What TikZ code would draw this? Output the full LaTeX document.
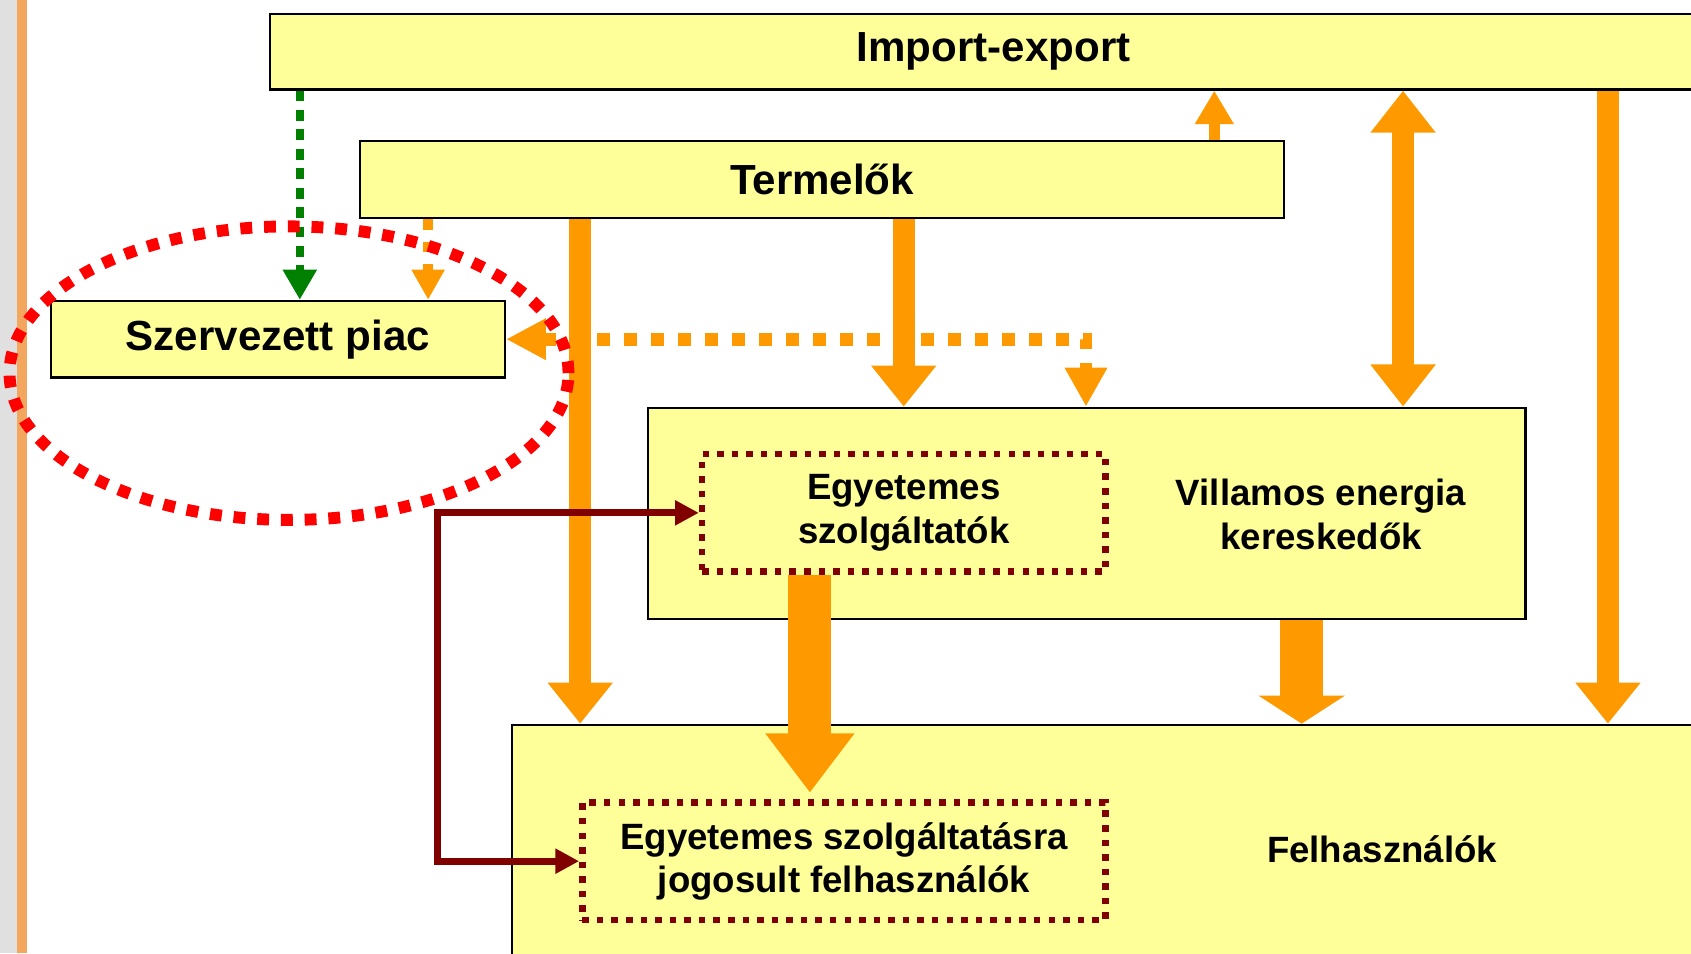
\documentclass[tikz,border=0pt]{standalone}
\usepackage{fontspec}
\setmainfont{Liberation Sans}
\usetikzlibrary{arrows.meta}
\definecolor{boxyellow}{HTML}{FFFF99}
\definecolor{arrorange}{HTML}{FF9900}
\definecolor{flowgreen}{HTML}{008000}
\definecolor{flowred}{HTML}{800000}
\definecolor{stripgray}{HTML}{E0E0E0}
\definecolor{stripsand}{HTML}{F2A65E}

\begin{document}
\begin{tikzpicture}[x=0.01cm, y=-0.01cm,
    bigbox/.style={draw, fill=boxyellow, line width=0.02cm, inner sep=0pt, anchor=north west,
      align=center, font=\bfseries\fontsize{11.1}{13}\selectfont},
    smallbox/.style={bigbox, font=\bfseries\fontsize{9.65}{11.4}\selectfont},
    dotbox/.style={draw=flowred, line width=0.06cm, dash pattern=on 0.06cm off 0.075cm,
      inner sep=0pt, anchor=north west, align=center, font=\bfseries\fontsize{9.65}{11.4}\selectfont},
    thickflow/.style={draw=arrorange, line width=0.2cm},
    fatflow/.style={draw=arrorange, line width=0.4cm},
    thickhead/.style={-{Triangle[width=0.58cm, length=0.38cm]}}]

    \useasboundingbox (0,0) rectangle (1568,884);
    \clip (0,0) rectangle (1568,884);

    % 帯を塗る
    \fill[stripgray] (0,0) rectangle (15.5,884);
    \fill[stripsand] (15.5,0) rectangle (25,884);

    % 箱を置く
    \node[bigbox, minimum width=13.42cm, minimum height=0.70cm] (imp) at (249,12) {Import-export};
    \node[bigbox, minimum width=8.56cm, minimum height=0.71cm] (term) at (333,130) {Termelők};
    \node[bigbox, minimum width=4.21cm, minimum height=0.71cm] (szpiac) at (46,278) {Szervezett piac};
    \node[smallbox, minimum width=8.13cm, minimum height=1.96cm] (kered) at (600,377) {};
    \node[dotbox, minimum width=3.74cm, minimum height=1.09cm] (egyszolg) at (648,418) {Egyetemes\\szolgáltatók};
    \node[font=\bfseries\fontsize{9.65}{11.4}\selectfont, align=center] (keredtxt) at (1225,477) {Villamos energia\\kereskedők};
    \node[smallbox, minimum width=16.12cm, minimum height=2.30cm] (felh) at (474,671) {Felhasználók};
    \node[dotbox, minimum width=4.85cm, minimum height=1.09cm] (jogfelh) at (537,741) {Egyetemes szolgáltatásra\\jogosult felhasználók};

    % 矢印を引く
    \draw[flowgreen, line width=0.075cm, dash pattern=on 0.1cm off 0.08cm,
      -{Triangle[width=0.30cm, length=0.28cm]}] (imp.south -| 278,0) -- (szpiac.north -| 278,0);
    \draw[arrorange, line width=0.09cm, dash pattern=on 0.1cm off 0.11cm,
      -{Triangle[width=0.29cm, length=0.28cm]}] (term.south -| 397,0) -- (szpiac.north -| 397,0);
    \draw[thickflow, thickhead] (term.south -| 538,0) -- (felh.north -| 538,0);
    \draw[thickflow, thickhead] (term.south -| 838,0) -- (kered.north -| 838,0);
    \draw[thickflow, {Triangle[width=0.58cm, length=0.39cm]}-{Triangle[width=0.58cm, length=0.39cm]}]
      (imp.south -| 1301,0) -- (kered.north -| 1301,0);
    \draw[thickflow, thickhead] (imp.south -| 1491,0) -- (felh.north -| 1491,0);
    \draw[arrorange, line width=0.1cm, -{Triangle[width=0.34cm, length=0.31cm]}]
      (term.north -| 1126,0) -- (imp.south -| 1126,0);
    \draw[arrorange, line width=0.12cm, dash pattern=on 0.12cm off 0.13cm,
      {Triangle[width=0.36cm, length=0.37cm]}-{Triangle[width=0.37cm, length=0.36cm]}]
      (szpiac.east) -- (szpiac.east -| 1007,0) -- (kered.north -| 1007,0);
    \draw[fatflow, -{Triangle[width=0.79cm, length=0.55cm]}, shorten >=0.06cm]
      (egyszolg.south -| 751,0) -- (jogfelh.north -| 751,0);
    \draw[fatflow, -{Triangle[width=0.79cm, length=0.26cm]}] (kered.south -| 1207,0) -- (felh.north -| 1207,0);

    % 折れ線
    \draw[flowred, line width=0.065cm, {Triangle[width=0.22cm, length=0.22cm]}-{Triangle[width=0.22cm, length=0.22cm]}]
      (egyszolg.west) -- (egyszolg.west -| 406,0) -- (jogfelh.west -| 406,0) -- (jogfelh.west);

    % 楕円
    \draw[red, line width=0.11cm, dash pattern=on 0.11cm off 0.11cm] (268,346) ellipse [x radius=2.59cm, y radius=1.36cm];

\end{tikzpicture}
\end{document}
